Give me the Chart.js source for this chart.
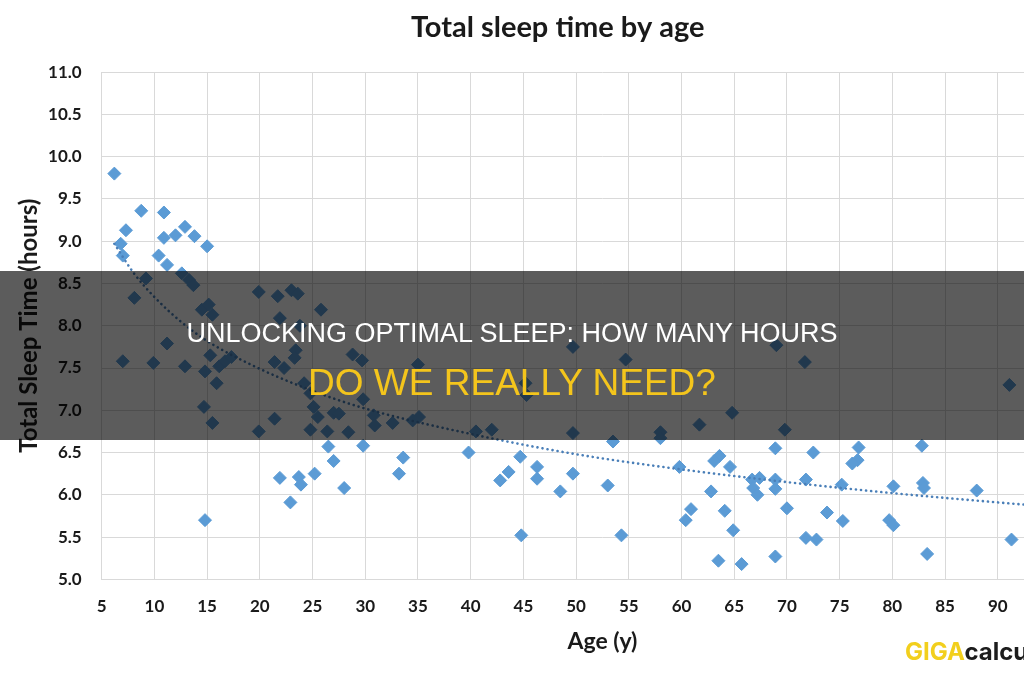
<!DOCTYPE html>
<html>
<head>
<meta charset="utf-8">
<title>Total sleep time by age</title>
<script src="https://cdn.jsdelivr.net/npm/chart.js@4.4.1/dist/chart.umd.min.js"></script>
<style>
  html, body { margin: 0; padding: 0; width: 1024px; height: 680px; overflow: hidden; background: #fff; }
  #wrap { position: relative; width: 1135px; height: 680px; }
  #band { position: absolute; left: 0; top: 271px; width: 1024px; height: 169px; background: rgba(0,0,0,0.64); }
  .head { position: absolute; left: 0; width: 1024px; text-align: center; white-space: nowrap;
          font-family: 'Liberation Sans', Arial, sans-serif; }
  #l1 { top: 320px; font-size: 27px; line-height: 27px; color: #fff; }
  #l2 { top: 364px; font-size: 37px; line-height: 37px; color: #f4c51c; }
  #logo { position: absolute; left: 905px; top: 640px; font-family: Inter, sans-serif; font-weight: 700;
          font-size: 24px; line-height: 24px; white-space: nowrap; color: #1c1c1c; }
  #logo span { color: #f2cf1d; }
</style>
</head>
<body>
<div id="wrap">
  <canvas id="myChart" width="1135" height="680"></canvas>
  <div id="band"></div>
  <div class="head" id="l1">UNLOCKING OPTIMAL SLEEP: HOW MANY HOURS</div>
  <div class="head" id="l2">DO WE REALLY NEED?</div>
  <div id="logo"><span>GIGA</span>calculator.com</div>
</div>
<script>
// edad (años) y horas de sueño
const ages = [
  6.2, 8.75, 10.9, 7.3, 6.8, 7.0, 10.9, 12.0, 12.9, 13.8, 15.0, 10.4, 11.2, 12.6, 9.2, 8.1,
  13.3, 13.7, 14.5, 15.15, 15.5, 11.2, 7.0, 9.9, 12.9, 15.3, 14.8, 15.9, 16.15, 16.7, 17.3,
  14.7, 15.5, 19.9, 21.7, 23.0, 23.6, 25.8, 21.9, 23.8, 23.4, 23.3, 21.4, 22.3, 28.8, 29.7,
  24.2, 24.8, 25.1, 25.5, 24.8, 27.0, 27.5, 21.4, 19.9, 26.4, 28.4, 35.0, 29.8, 30.8, 30.9,
  32.6, 34.5, 35.1, 40.5, 42.0, 29.8, 33.6, 39.8, 45.2, 45.3, 49.7, 58.0, 58.0, 53.5, 44.7,
  46.3, 43.6, 42.8, 49.7, 59.8, 46.3, 69.0, 71.7, 91.1, 64.8, 61.7, 69.8, 68.9, 72.5, 76.8,
  76.7, 76.2, 82.8, 63.6, 63.1, 64.6, 49.7, 54.7, 48.5, 53.0, 44.8, 54.3, 62.8, 60.9, 60.4,
  64.1, 64.9, 63.5, 65.7, 66.7, 67.4, 66.8, 67.2, 68.9, 68.9, 68.9, 70.0, 71.8, 71.8, 72.8,
  73.8, 75.2, 75.3, 80.1, 79.7, 80.1, 82.9, 83.0, 83.3, 88.0, 91.3, 14.8, 21.9, 22.9, 23.7,
  23.9, 25.2, 26.5, 27.0, 28.0, 33.2
];
const hours = [
  9.80, 9.36, 9.34, 9.13, 8.97, 8.83, 9.04, 9.07, 9.17, 9.06, 8.94, 8.83, 8.72, 8.62, 8.56, 8.33,
  8.54, 8.48, 8.19, 8.25, 8.13, 7.79, 7.58, 7.56, 7.52, 7.65, 7.46, 7.32, 7.52, 7.58, 7.63,
  7.04, 6.85, 8.40, 8.35, 8.42, 8.38, 8.19, 8.09, 8.00, 7.71, 7.62, 7.57, 7.50, 7.66, 7.59,
  7.32, 7.20, 7.04, 6.92, 6.77, 6.97, 6.96, 6.90, 6.75, 6.75, 6.74, 7.54, 7.13, 6.94, 6.82,
  6.85, 6.88, 6.92, 6.75, 6.77, 6.58, 6.44, 6.50, 7.32, 7.18, 6.73, 6.74, 6.67, 6.63, 6.45,
  6.33, 6.27, 6.17, 6.25, 6.33, 6.19, 7.77, 7.57, 7.30, 6.97, 6.83, 6.77, 6.55, 6.50, 6.56,
  6.41, 6.37, 6.58, 6.46, 6.40, 6.33, 7.75, 7.60, 6.04, 6.11, 5.52, 5.52, 6.04, 5.83, 5.70,
  5.81, 5.58, 5.22, 5.18, 6.18, 6.20, 6.08, 6.00, 6.18, 6.07, 5.27, 5.84, 6.18, 5.49, 5.47,
  5.79, 6.12, 5.69, 6.10, 5.70, 5.64, 6.14, 6.08, 5.30, 6.05, 5.47, 5.70, 6.20, 5.91, 6.21,
  6.12, 6.25, 6.57, 6.40, 6.08, 6.25
];

// línea de tendencia punteada
const trendAges  = [6.2, 8, 10, 12.5, 15, 20, 25, 30, 40, 50, 60, 70, 80, 90, 100];
const trendHours = [8.97, 8.63, 8.34, 8.05, 7.82, 7.49, 7.23, 7.02, 6.72, 6.48, 6.30, 6.15, 6.02, 5.91, 5.81];

const titulo = 'Total sleep time by age';
const xTitulo = 'Age (y)';
const yTitulo = 'Total Sleep Time (hours)';

const gridColor = '#d9d9d9';
const textColor = '#1a1a1a';
const fuente = 'Lato, "Open Sans", sans-serif';

const puntos = ages.map((a, i) => ({ x: a, y: hours[i] }));
const tendencia = trendAges.map((a, i) => ({ x: a, y: trendHours[i] }));

const ctx = document.getElementById('myChart').getContext('2d');
new Chart(ctx, {
  type: 'scatter',
  data: {
    datasets: [{
      label: 'Trend',
      data: tendencia,
      showLine: true,
      borderColor: '#4a7fb8',
      borderWidth: 2.6,
      borderDash: [0.1, 5],
      borderCapStyle: 'round',
      pointRadius: 0,
      cubicInterpolationMode: 'monotone',
      fill: false
    }, {
      label: 'Total Sleep Time',
      data: puntos,
      pointStyle: 'rectRot',
      pointRadius: 6.5,
      backgroundColor: '#5b9bd5',
      borderColor: '#5b9bd5',
      borderWidth: 1
    }]
  },
  options: {
    responsive: false,
    animation: false,
    layout: { padding: { left: 0, right: 19.6, top: 0, bottom: 0 } },
    plugins: {
      legend: { display: false },
      tooltip: { enabled: false },
      title: {
        display: true,
        text: titulo,
        color: textColor,
        font: { family: fuente, size: 29, weight: 'bold' },
        padding: { top: 10, bottom: 27.4 }
      }
    },
    scales: {
      x: {
        type: 'linear',
        min: 5,
        max: 100,
        afterFit: (scale) => { scale.height = 100.7; },
        border: { color: gridColor },
        grid: { color: gridColor, drawTicks: false },
        ticks: {
          stepSize: 5,
          padding: 17,
          color: textColor,
          font: { family: fuente, size: 17, weight: 'bold' }
        },
        title: {
          display: true,
          text: xTitulo,
          color: textColor,
          font: { family: fuente, size: 23, weight: 'bold' },
          padding: { top: 0, bottom: 25 }
        }
      },
      y: {
        min: 5,
        max: 11,
        afterFit: (scale) => { scale.width = 101.7; },
        border: { color: gridColor },
        grid: { color: gridColor, drawTicks: false },
        ticks: {
          stepSize: 0.5,
          padding: 20,
          color: textColor,
          font: { family: fuente, size: 17, weight: 'bold' },
          callback: (v) => v.toFixed(1)
        },
        title: {
          display: true,
          text: yTitulo,
          color: textColor,
          font: { family: fuente, size: 24, weight: 'bold' },
          padding: { top: 15, bottom: 0 }
        }
      }
    }
  }
});
</script>
</body>
</html>
